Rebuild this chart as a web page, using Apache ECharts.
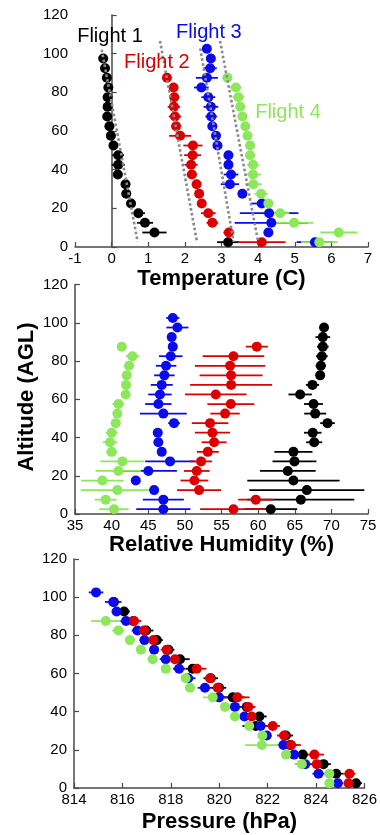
<!DOCTYPE html>
<html><head><meta charset="utf-8">
<script src="https://cdn.jsdelivr.net/npm/echarts@6/dist/echarts.min.js"></script>
<style>html,body{margin:0;padding:0;background:#fff}#c{width:380px;height:835px}</style>
</head><body><div id="c"></div>
<script>
// ---------- altitudes (m AGL) ----------
const altF1 = [97.5,92.5,87.5,82.5,77.5,72.5,67.5,62.5,57.5,52.5,47.5,42.5,37.5,32.5,27.5,22.5,17.5,12.5,7.5,2.5];
const altF2 = [87.5,82.5,77.5,72.5,67.5,62.5,57.5,52.5,47.5,42.5,37.5,32.5,27.5,22.5,17.5,12.5,7.5,2.5];
const altF3 = [102.5,97.5,92.5,87.5,82.5,77.5,72.5,67.5,62.5,57.5,52.5,47.5,42.5,37.5,32.5,27.5,22.5,17.5,12.5,7.5,2.5];
const altF4 = [87.5,82.5,77.5,72.5,67.5,62.5,57.5,52.5,47.5,42.5,37.5,32.5,27.5,22.5,17.5,12.5,7.5,2.5];

// ---------- temperature (C) ----------
const tempF1 = [-0.23,-0.18,-0.13,-0.09,-0.11,-0.11,-0.12,-0.06,-0.02,0.05,0.18,0.18,0.17,0.38,0.40,0.53,0.73,0.91,1.17,3.18];
const tempErrF1 = [0.04,0.05,0.06,0.05,0.05,0.08,0.05,0.07,0.05,0.05,0.16,0.18,0.12,0.05,0.05,0.07,0.18,0.22,0.33,0.30];
const tempF2 = [1.51,1.69,1.71,1.70,1.73,1.76,1.87,2.22,2.21,2.17,2.19,2.32,2.39,2.46,2.64,2.75,3.20,4.10];
const tempErrF2 = [0.03,0.12,0.14,0.17,0.17,0.10,0.30,0.26,0.23,0.18,0.14,0.04,0.04,0.04,0.20,0.16,0.15,0.65];
const tempF3 = [2.60,2.71,2.69,2.60,2.45,2.64,2.71,2.72,2.75,2.85,2.89,3.19,3.19,3.26,3.23,3.57,4.10,4.30,4.36,4.28,5.55];
const tempErrF3 = [0.03,0.05,0.18,0.30,0.20,0.19,0.20,0.16,0.12,0.04,0.04,0.04,0.04,0.20,0.25,0.04,0.30,0.80,1.00,0.05,0.50];
const tempF4 = [3.16,3.39,3.46,3.51,3.57,3.65,3.71,3.78,3.78,3.86,3.86,3.87,4.08,4.28,4.60,4.98,6.20,5.67];
const tempErrF4 = [0.03,0.16,0.16,0.05,0.05,0.07,0.04,0.04,0.14,0.16,0.23,0.23,0.18,0.13,0.25,0.52,0.50,0.50];

// dry adiabat guide lines (temperature, altitude endpoints)
const adiabatT = [[-0.27,0.71],[1.32,2.33],[2.42,3.33],[2.96,4.00]];
const adiabatAlt = [[102,2.7],[106.6,2.7],[102.7,2.7],[106.6,2.7]];

// ---------- relative humidity (%) ----------
const rhF1 = [69.0,68.83,68.83,68.7,68.56,68.47,67.42,65.74,67.56,67.79,69.47,67.46,67.65,64.82,64.96,64.05,64.82,66.65,65.83,61.73];
const rhErrF1 = [0.3,1.0,0.8,0.8,0.7,0.3,0.9,1.6,1.3,1.5,1.0,1.2,1.1,2.6,3.0,3.8,6.3,7.85,7.3,3.6];
const rhF2 = [59.82,56.63,56.17,56.31,56.31,54.22,56.27,55.49,53.44,53.76,53.99,53.13,52.21,51.62,51.3,51.94,59.68,56.63];
const rhErrF2 = [1.5,4.2,4.8,4.3,5.6,4.2,3.2,2.0,2.5,2.4,1.7,1.5,1.5,1.75,1.9,3.0,2.4,4.55];
const rhF3 = [48.35,48.98,48.2,48.35,48.07,47.43,47.2,46.84,46.6,46.38,47.06,48.52,46.3,46.38,46.84,47.98,45.01,43.3,45.8,47.06,47.06];
const rhErrF3 = [0.9,1.5,0.2,0.2,1.6,1.4,1.4,1.5,1.6,1.8,3.2,0.8,0.2,0.2,0.5,3.4,3.9,0.1,0.6,2.8,3.7];
const rhF4 = [41.38,42.83,42.38,42.06,41.97,41.92,40.92,40.78,40.56,40.01,39.78,40.01,41.46,40.92,38.73,40.78,39.19,40.33];
const rhErrF4 = [0.1,0.9,0.5,0.6,0.3,0.3,0.8,0.2,0.2,0.8,1.0,0.8,3.0,3.1,2.9,5.0,1.5,2.0];

// ---------- pressure (hPa) ----------
const pF1 = [815.65,816.07,816.45,816.98,817.42,817.9,818.38,818.9,819.65,819.99,820.56,821.14,821.66,821.51,822.75,822.93,823.45,824.31,824.83,825.65];
const pErrF1 = [0.2,0.24,0.2,0.3,0.25,0.25,0.4,0.3,0.3,0.3,0.5,0.3,0.3,0.55,0.3,0.3,0.2,0.3,0.3,0.25];
const pF2 = [816.48,816.89,817.28,817.83,818.17,819.07,819.62,819.94,820.75,821.2,821.34,822.21,822.68,822.97,823.93,824.03,825.38,825.34];
const pErrF2 = [0.3,0.25,0.2,0.25,0.2,0.4,0.2,0.2,0.5,0.3,0.2,0.3,0.3,0.4,0.4,0.2,0.25,0.2];
const pF3 = [814.91,815.62,815.76,816.15,816.62,816.91,817.31,817.79,818.34,818.72,819.41,819.99,820.65,821.04,821.71,821.96,822.65,823.09,823.55,824.1,824.9];
const pErrF3 = [0.3,0.34,0.2,0.24,0.24,0.2,0.2,0.25,0.25,0.3,0.3,0.4,0.25,0.3,0.2,0.2,0.25,0.25,0.4,0.25,0.2];
const pF4 = [815.31,815.83,816.31,816.76,817.25,817.79,818.61,818.79,819.73,820.24,820.65,821.24,821.78,821.76,822.76,823.41,824.55,824.55];
const pErrF4 = [0.6,0.25,0.2,0.2,0.2,0.2,0.15,0.1,0.4,0.1,0.1,0.1,0.1,0.7,0.1,0.3,0.1,0.1];

// ---------- annotations ----------
const labelNames = ['Flight 1','Flight 2','Flight 3','Flight 4'];
const labelT = [-0.94, 0.34, 1.76, 3.92];
const labelAlt = [109, 95.3, 111, 69.8];

const colF1 = '#000000', colF2 = '#dd0000', colF3 = '#0a0aeb', colF4 = '#8ce85a';
const labelColors = [colF1, colF2, colF3, colF4];
const FONT = '"Liberation Sans", Arial, Helvetica, sans-serif';

const chart = echarts.init(document.getElementById('c'), null, {renderer:'canvas'});

const axisLine = {show:true, lineStyle:{color:'#4a4a4a', width:1.5}};
const axisTick = {show:true, inside:true, length:5, lineStyle:{color:'#4a4a4a', width:1.2}};
const axisLabel = {color:'#000', fontSize:15, fontFamily:FONT};

function xAx(idx, min, max, interval){
  return {type:'value', gridIndex:idx, min, max, interval, axisLine, axisTick,
    axisLabel:Object.assign({margin:4}, axisLabel), splitLine:{show:false}};
}
function yAx(idx){
  return {type:'value', gridIndex:idx, min:0, max:120, interval:20, axisLine, axisTick,
    axisLabel:Object.assign({margin:7}, axisLabel), splitLine:{show:false}};
}

const series = [];
function errRender(color){
  return function(params, api){
    const a = api.coord([api.value(0), api.value(2)]);
    const b = api.coord([api.value(1), api.value(2)]);
    return {type:'line', shape:{x1:a[0], y1:a[1], x2:b[0], y2:b[1]},
      style:{stroke:color, lineWidth:1.8}};
  };
}
function addFlight(g, vals, errs, alts, color){
  series.push({type:'custom', xAxisIndex:g, yAxisIndex:g, silent:true, z:2,
    renderItem:errRender(color), encode:{x:[0,1], y:2},
    data: vals.map((v,i)=>[v-errs[i], v+errs[i], alts[i]])});
  series.push({type:'scatter', xAxisIndex:g, yAxisIndex:g, symbolSize:10, silent:true, z:2,
    itemStyle:{color:color, opacity:1},
    data: vals.map((v,i)=>[v, alts[i]])});
}

// panel 1
addFlight(0, tempF1, tempErrF1, altF1, colF1);
addFlight(0, tempF3, tempErrF3, altF3, colF3);
addFlight(0, tempF2, tempErrF2, altF2, colF2);
addFlight(0, tempF4, tempErrF4, altF4, colF4);
adiabatT.forEach((t,k)=>{
  series.push({type:'line', xAxisIndex:0, yAxisIndex:0, showSymbol:false, silent:true, z:4,
    lineStyle:{color:'#8a8a8a', width:2.6, type:[2.6,2.4]},
    data:[[t[0], adiabatAlt[k][0]],[t[1], adiabatAlt[k][1]]]});
});
series.push({type:'custom', xAxisIndex:0, yAxisIndex:0, silent:true, z:5,
  data: labelT.map((t,i)=>[t, labelAlt[i]]),
  renderItem:function(params, api){
    const p = api.coord([api.value(0), api.value(1)]);
    return {type:'text', x:p[0], y:p[1], style:{text:labelNames[params.dataIndex],
      fill:labelColors[params.dataIndex], font:'20px '+FONT, textAlign:'left', textVerticalAlign:'middle'}};
  }});

// panel 2
addFlight(1, rhF1, rhErrF1, altF1, colF1);
addFlight(1, rhF3, rhErrF3, altF3, colF3);
addFlight(1, rhF2, rhErrF2, altF2, colF2);
addFlight(1, rhF4, rhErrF4, altF4, colF4);

// panel 3
addFlight(2, pF1, pErrF1, altF1, colF1);
addFlight(2, pF3, pErrF3, altF3, colF3);
addFlight(2, pF2, pErrF2, altF2, colF2);
addFlight(2, pF4, pErrF4, altF4, colF4);

function title(text, x, y, rot){
  return {type:'text', x, y, rotation:rot||0, silent:true,
    style:{text, font:'bold 22px '+FONT, fill:'#000', textAlign:'center', textVerticalAlign:'middle'}};
}

chart.setOption({
  animation:false,
  backgroundColor:'#fff',
  grid:[
    {left:75, width:293, top:15, height:232},
    {left:75, width:293, top:284.5, height:229.5},
    {left:74, width:291, top:559, height:229}
  ],
  xAxis:[xAx(0,-1,7,1), xAx(1,35,75,5), xAx(2,814,826,2)],
  yAxis:[yAx(0), yAx(1), yAx(2)],
  series,
  graphic:[
    title('Temperature (C)', 221.5, 279),
    title('Relative Humidity (%)', 221.5, 545),
    title('Pressure (hPa)', 219.5, 822),
    title('Altitude (AGL)', 27, 397, Math.PI/2)
  ]
});
</script></body></html>
